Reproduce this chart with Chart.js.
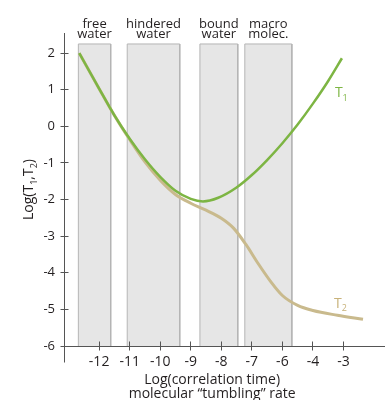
<!DOCTYPE html>
<html>
<head>
<meta charset="utf-8">
<script src="https://cdn.jsdelivr.net/npm/chart.js@4.4.1/dist/chart.umd.min.js"></script>
<style>
body { margin: 0; background: #fff; }
</style>
</head>
<body>
<canvas id="chart" width="385" height="400"></canvas>
<script>
// x runs along the axis in tick steps: 0 = "-12", 1 = "-11" ... (the axis skips -5)
const xTickLabels = ['-12', '-11', '-10', '-9', '-8', '-7', '-6', '-4', '-3']
const yTicks = [-6, -5, -4, -3, -2, -1, 0, 1, 2]

// T1 (green)
const t1X = [-0.65, 0.0, 0.5, 1.0, 1.5, 2.0, 2.5, 3.0, 3.4, 3.9, 4.5, 5.0, 5.5, 6.0, 6.5, 7.0, 7.5, 7.95]
const t1Y = [2.0, 1.03, 0.30, -0.34, -0.90, -1.38, -1.76, -1.98, -2.05, -1.95, -1.67, -1.33, -0.92, -0.46, 0.05, 0.62, 1.24, 1.86]

// T2 (tan)
const t2X = [-0.65, 0.0, 0.5, 1.0, 1.5, 2.0, 2.5, 3.0, 3.5, 4.0, 4.4, 4.8, 5.2, 5.6, 6.0, 6.5, 7.0, 7.8, 8.64]
const t2Y = [2.0, 1.03, 0.30, -0.36, -0.97, -1.47, -1.86, -2.10, -2.29, -2.51, -2.78, -3.22, -3.74, -4.22, -4.62, -4.89, -5.03, -5.16, -5.27]

// grey regions
const bandNames = [['free', 'water'], ['hindered', 'water'], ['bound', 'water'], ['macro', 'molec.']]
const bandStart = [-0.68, 0.92, 3.3, 4.77]
const bandEnd = [0.38, 2.64, 4.54, 6.31]
const bandTop = 2.25

const green = '#7db543'
const tan = '#c9ba8d'
const axisColor = '#555'
const textColor = '#231f20'
const FONT = '"Open Sans", sans-serif'

Chart.defaults.font.family = FONT

const toPoints = (xs, ys) => xs.map((v, i) => ({x: v, y: ys[i]}))

const bandSets = bandStart.map((a, i) => ({
    data: [{x: a, y: -6}, {x: a, y: bandTop}, {x: bandEnd[i], y: bandTop}, {x: bandEnd[i], y: -6}],
    borderColor: '#b4b4b4',
    borderWidth: 1,
    backgroundColor: '#e6e6e6',
    fill: 'start',
    tension: 0,
    pointRadius: 0
}))

// text with subscripts, parts = [text, isSub]
function drawRich(ctx, parts, x, y, size, align) {
    const big = size + 'px ' + FONT
    const small = Math.round(size * 0.65) + 'px ' + FONT
    let w = 0
    parts.forEach(p => { ctx.font = p[1] ? small : big; w += ctx.measureText(p[0]).width })
    let cx = align == 'center' ? x - w / 2 : x
    ctx.textAlign = 'left'
    parts.forEach(p => {
        ctx.font = p[1] ? small : big
        ctx.fillText(p[0], cx, p[1] ? y + size * 0.25 : y)
        cx += ctx.measureText(p[0]).width
    })
}

const crisp = v => Math.round(v - 0.5) + 0.5

const extras = {
    id: 'extras',
    afterDraw(chart) {
        const {ctx, scales: {x, y}, chartArea} = chart
        ctx.save()
        ctx.strokeStyle = axisColor
        ctx.lineWidth = 1
        const ax = crisp(chartArea.left)
        const ay = crisp(chartArea.bottom)
        ctx.beginPath()
        // y axis carries on below the x axis
        ctx.moveTo(ax, ay)
        ctx.lineTo(ax, ay + 16)
        yTicks.forEach(v => {
            const py = crisp(y.getPixelForValue(v))
            ctx.moveTo(ax - 4, py)
            ctx.lineTo(ax + 4, py)
        })
        xTickLabels.forEach((_, i) => {
            const px = crisp(x.getPixelForValue(i))
            ctx.moveTo(px, ay - 5)
            ctx.lineTo(px, ay + 4)
        })
        ctx.stroke()

        ctx.fillStyle = textColor
        ctx.textBaseline = 'alphabetic'
        ctx.textAlign = 'center'
        ctx.font = '13px ' + FONT
        const top = y.getPixelForValue(bandTop)
        bandNames.forEach((lines, i) => {
            const cx = (x.getPixelForValue(bandStart[i]) + x.getPixelForValue(bandEnd[i])) / 2
            ctx.fillText(lines[0], cx, top - 15.5)
            ctx.fillText(lines[1], cx, top - 6)
        })

        ctx.font = '14px ' + FONT
        const tx = x.getPixelForValue(3.7)
        ctx.fillText('Log(correlation time)', tx, 384)
        ctx.fillText('molecular \u201ctumbling\u201d rate', tx, 398)

        ctx.fillStyle = green
        drawRich(ctx, [['T', false], ['1', true]], x.getPixelForValue(7.72), y.getPixelForValue(0.8), 14, 'left')
        ctx.fillStyle = '#c8b27a'
        drawRich(ctx, [['T', false], ['2', true]], x.getPixelForValue(7.69), y.getPixelForValue(-4.95), 14, 'left')

        ctx.fillStyle = textColor
        ctx.translate(33, (chartArea.top + chartArea.bottom) / 2)
        ctx.rotate(-Math.PI / 2)
        drawRich(ctx, [['Log(T', false], ['1', true], [',T', false], ['2', true], [')', false]], 0, 0, 14, 'center')
        ctx.restore()
    }
}

new Chart(document.getElementById('chart'), {
    type: 'line',
    data: {
        datasets: [
            {data: toPoints(t1X, t1Y), borderColor: green, borderWidth: 2.5, pointRadius: 0, cubicInterpolationMode: 'monotone', fill: false},
            {data: toPoints(t2X, t2Y), borderColor: tan, borderWidth: 3, pointRadius: 0, cubicInterpolationMode: 'monotone', fill: false},
            ...bandSets
        ]
    },
    options: {
        responsive: false,
        animation: false,
        layout: {padding: {top: 33, right: 0, bottom: 0, left: 0}},
        plugins: {legend: {display: false}, tooltip: {enabled: false}},
        scales: {
            x: {
                type: 'linear',
                min: -1.15,
                max: 9.36,
                grid: {display: false, drawTicks: false},
                border: {color: axisColor, width: 1},
                afterBuildTicks: s => { s.ticks = xTickLabels.map((_, i) => ({value: i})) },
                afterFit: s => { s.height = 54 },
                ticks: {
                    autoSkip: false, maxRotation: 0, padding: 8, color: textColor,
                    font: {size: 14},
                    callback: v => xTickLabels[v]
                }
            },
            y: {
                type: 'linear',
                min: -6,
                max: 2.55,
                grid: {display: false, drawTicks: false},
                border: {color: axisColor, width: 1},
                afterBuildTicks: s => { s.ticks = yTicks.map(v => ({value: v})) },
                afterFit: s => { s.width = 64 },
                ticks: {padding: 9, color: textColor, font: {size: 13}}
            }
        }
    },
    plugins: [extras]
})
</script>
</body>
</html>
